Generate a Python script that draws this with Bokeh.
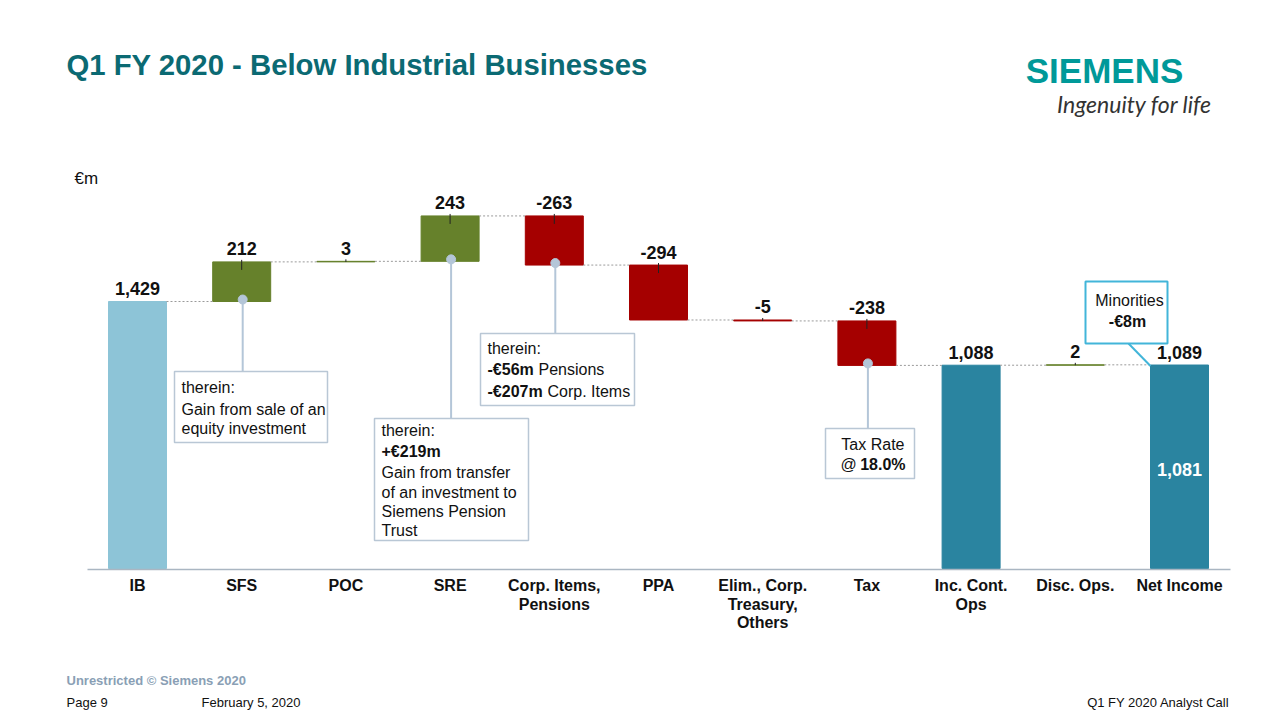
from bokeh.plotting import figure
from bokeh.models import Range1d, Label, ColumnDataSource
from bokeh.core.properties import value
from bokeh.embed import file_html
from bokeh.resources import INLINE

# ---------------- data ----------------
categories = ["IB", "SFS", "POC", "SRE", "Corp. Items,\nPensions", "PPA",
              "Elim., Corp.\nTreasury,\nOthers", "Tax", "Inc. Cont.\nOps",
              "Disc. Ops.", "Net Income"]
values = [1429, 212, 3, 243, -263, -294, -5, -238, 1088, 2, 1089]
kinds = ["total", "step", "step", "step", "step", "step", "step", "step",
         "total", "step", "total"]
value_labels = ["1,429", "212", "3", "243", "-263", "-294", "-5", "-238",
                "1,088", "2", "1,089"]
net_income_after_minorities = ["1,081"]
minorities_label = ["-€8m"]

# ---------------- styles ----------------
FONT = "Liberation Sans"
C_IB = "#8dc4d7"
C_TOTAL = "#2a84a0"
C_POS = "#66812b"
C_NEG = "#a50000"
C_BOX = "#b9c7d5"
C_DOT = "#b4c6d8"
C_CYAN = "#42b5d9"
C_TITLE = "#0b6a73"

W, H = 1264, 712
X0, DX, Y0, S = 137.0, 104.2, 568.0, 267.0 / 1429.0   # pixel mapping


def xd(px):
    return (px - X0) / DX


def yd(py):
    return (Y0 - py) / S


p = figure(width=W, height=H, output_backend="svg", toolbar_location=None,
           x_axis_type=None, y_axis_type=None,
           x_range=Range1d(xd(0), xd(W)),
           y_range=Range1d(yd(H), yd(0)),
           min_border_left=0, min_border_right=0, min_border_top=0,
           min_border_bottom=0)
p.outline_line_color = None
p.grid.visible = False
p.background_fill_color = "white"
p.border_fill_color = "white"

# ---------------- waterfall geometry ----------------
bw = 58.0 / DX
idx = list(range(len(categories)))
bottoms, tops, colors, levels = [], [], [], []
running = 0
for i, (v, k) in enumerate(zip(values, kinds)):
    if k == "total":
        b, t = 0, v
        running = v
        colors.append(C_IB if i == 0 else C_TOTAL)
    else:
        b, t = running, running + v
        running += v
        colors.append(C_POS if v >= 0 else C_NEG)
    bottoms.append(b)
    tops.append(t)
    levels.append(running)

src = ColumnDataSource(dict(x=idx, bottom=bottoms, top=tops, color=colors))
p.vbar(x="x", width=bw, bottom="bottom", top="top", fill_color="color",
       line_color="color", line_width=1, source=src)

# connectors
cx0 = [i + bw / 2 for i in idx[:-1]]
cx1 = [i + 1 - bw / 2 for i in idx[:-1]]
cy = levels[:-1]
p.segment(x0=cx0, y0=cy, x1=cx1, y1=cy, line_color="#9a9a9a",
          line_width=1, line_dash="2 2")

# axis line
p.segment(x0=[xd(87)], y0=[yd(569)], x1=[xd(1230)], y1=[yd(569)],
          line_color="#aab6c2", line_width=1.5)

# category labels
cat_src = ColumnDataSource(dict(x=idx, y=[yd(576.5)] * len(idx),
                                text=categories))
p.text(x="x", y="y", text="text", source=cat_src, text_font=value(FONT),
       text_font_size="16px", text_font_style="bold", text_color="#111111",
       text_align="center", text_baseline="top", text_line_height=1.1)

# small ticks under step labels
tx, ty0, ty1 = [], [], []
for i, k in enumerate(kinds):
    if k == "step":
        hi, lo = max(bottoms[i], tops[i]), min(bottoms[i], tops[i])
        tx.append(i)
        ty0.append(hi + 2 / S)
        ty1.append(max(hi - 8 / S, lo))
p.segment(x0=tx, y0=ty0, x1=tx, y1=ty1, line_color="#222222", line_width=1)

# value labels
for i, t in enumerate(value_labels):
    hi = max(bottoms[i], tops[i])
    p.add_layout(Label(x=i, y=hi + 13 / S, text=t, text_font=FONT,
                       text_font_size="18px", text_font_style="bold",
                       text_color="#111111", text_align="center",
                       text_baseline="middle"))

# ---------------- callouts ----------------
callouts = {1: (174, 327, 371, 442), 3: (374, 528, 418, 540),
            4: (480, 634, 333, 405), 7: (825, 914, 428, 478)}
for i, (l, r, tp, bt) in callouts.items():
    lo = min(bottoms[i], tops[i])
    p.segment(x0=[i + 1 / DX], y0=[lo + 2 / S], x1=[i + 1 / DX], y1=[yd(tp)],
              line_color=C_DOT, line_width=2)
    p.scatter(x=[i + 1 / DX], y=[lo + 2 / S], size=9, fill_color=C_DOT,
              line_color=C_DOT)
    p.quad(left=[xd(l)], right=[xd(r)], top=[yd(tp)], bottom=[yd(bt)],
           fill_color="white", line_color=C_BOX, line_width=1.5)

# minorities box
p.segment(x0=[xd(1128)], y0=[yd(343)], x1=[xd(1150)], y1=[yd(365.5)],
          line_color=C_CYAN, line_width=2)
p.quad(left=[xd(1085)], right=[xd(1167)], top=[yd(281)], bottom=[yd(343)],
       fill_color="white", line_color=C_CYAN, line_width=2)


def lab(text, px, py, size, bold=False, color="#111111", align="left",
        font=FONT, italic=False):
    style = "normal"
    if bold and italic:
        style = "bold italic"
    elif bold:
        style = "bold"
    elif italic:
        style = "italic"
    p.add_layout(Label(x=xd(px), y=yd(py), text=text, text_font=font,
                       text_font_size=f"{size}px", text_font_style=style,
                       text_color=color, text_align=align,
                       text_baseline="middle"))


# SFS box
lab("therein:", 181, 387, 16)
lab("Gain from sale of an", 181, 409, 16)
lab("equity investment", 181, 428, 16)
# SRE box
lab("therein:", 381, 430, 16)
lab("+€219m", 381, 451, 16, bold=True)
lab("Gain from transfer", 381, 472, 16)
lab("of an investment to", 381, 492, 16)
lab("Siemens Pension", 381, 511, 16)
lab("Trust", 381, 530, 16)
# Corp box
lab("therein:", 487, 348, 16)
lab("-€56m", 487, 369, 16, bold=True)
lab("Pensions", 538, 369, 16)
lab("-€207m", 487, 391, 16, bold=True)
lab("Corp. Items", 547, 391, 16)
# Tax box
lab("Tax Rate", 904, 444, 16, align="right")
lab("@", 840, 464, 16)
lab("18.0%", 905, 464, 16, bold=True, align="right")
# Minorities
lab("Minorities", 1129, 300, 16, align="center")
lab(minorities_label[0], 1127, 321, 16, bold=True, align="center")
# inner net income
lab(net_income_after_minorities[0], 1179, 469, 18, bold=True, color="white",
    align="center")

# ---------------- page texts ----------------
lab("Q1 FY 2020 - Below Industrial Businesses", 66, 64, 29.3, bold=True,
    color=C_TITLE)
lab("€m", 74, 178, 17)
lab("SIEMENS", 1104, 70, 35, bold=True, color="#009999", align="center")
lab("Ingenuity for life", 1134, 103, 23, italic=True, color="#333333",
    align="center", font="Lato")
lab("Unrestricted © Siemens 2020", 66, 680, 13, bold=True, color="#8a9fb5")
lab("Page 9", 66, 702, 13)
lab("February 5, 2020", 201, 702, 13)
lab("Q1 FY 2020 Analyst Call", 1229, 702, 13, align="right")

open("out.html", "w").write(file_html(p, INLINE))
